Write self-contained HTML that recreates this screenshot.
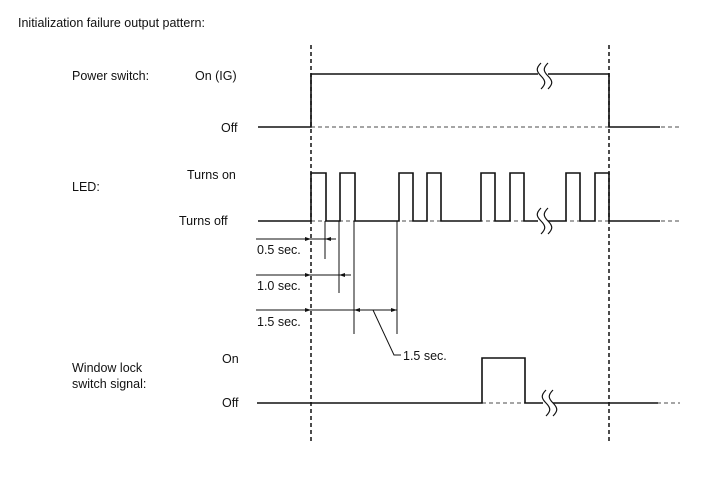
<!DOCTYPE html>
<html><head><meta charset="utf-8"><style>
html,body{margin:0;padding:0;background:#fff;}
svg{display:block;}
text{font-family:"Liberation Sans",Arial,sans-serif;font-size:12.5px;fill:#111;}
</style></head><body>
<svg width="713" height="481" viewBox="0 0 713 481" xmlns="http://www.w3.org/2000/svg">
<defs>
<marker id="ar" viewBox="0 0 6 6" refX="6" refY="3" markerWidth="6" markerHeight="6" orient="auto-start-reverse" markerUnits="userSpaceOnUse"><path d="M0,1 L6,3 L0,5 z" fill="#111"/></marker>
</defs>
<text x="18" y="27">Initialization failure output pattern:</text>
<text x="72" y="80">Power switch:</text>
<text x="195" y="80">On (IG)</text>
<text x="221" y="132">Off</text>
<text x="72" y="191">LED:</text>
<text x="187" y="179">Turns on</text>
<text x="179" y="225">Turns off</text>
<text x="257" y="254">0.5 sec.</text>
<text x="257" y="290">1.0 sec.</text>
<text x="257" y="326">1.5 sec.</text>
<text x="403" y="360">1.5 sec.</text>
<text x="72" y="372">Window lock</text>
<text x="72" y="388">switch signal:</text>
<text x="222" y="363">On</text>
<text x="222" y="407">Off</text>

<g stroke="#111" fill="none">
<!-- vertical dashed -->
<line x1="311" y1="45" x2="311" y2="442" stroke-width="1.5" stroke-dasharray="4,3"/>
<line x1="609" y1="45" x2="609" y2="442" stroke-width="1.5" stroke-dasharray="4,3"/>
<!-- dashed baselines -->
<line x1="311" y1="127" x2="680" y2="127" stroke-width="0.8" stroke-dasharray="4,3"/>
<line x1="311" y1="221" x2="680" y2="221" stroke-width="0.8" stroke-dasharray="4,3"/>
<line x1="482" y1="403" x2="680" y2="403" stroke-width="0.8" stroke-dasharray="4,3"/>
<!-- power -->
<polyline stroke-width="1.6" points="258,127 311,127 311,74 609,74 609,127 660,127"/>
<!-- LED -->
<polyline stroke-width="1.6" points="258,221 311,221 311,173 326,173 326,221 340,221 340,173 355,173 355,221 399,221 399,173 413,173 413,221 427,221 427,173 441,173 441,221 481,221 481,173 495,173 495,221 510,221 510,173 524,173 524,221 566,221 566,173 580,173 580,221 595,221 595,173 609,173 609,221 660,221"/>
<!-- window -->
<polyline stroke-width="1.6" points="257,403 482,403 482,358 525,358 525,403 658,403"/>
<!-- dims -->
<line x1="325" y1="221" x2="325" y2="259" stroke-width="1"/>
<line x1="339" y1="221" x2="339" y2="293" stroke-width="1"/>
<line x1="354" y1="221" x2="354" y2="334" stroke-width="1"/>
<line x1="397" y1="221" x2="397" y2="334" stroke-width="1"/>
<line x1="256" y1="239" x2="311" y2="239" stroke-width="1" marker-end="url(#ar)"/>
<line x1="311" y1="239" x2="336" y2="239" stroke-width="1"/>
<line x1="336" y1="239" x2="325" y2="239" stroke-width="1" marker-end="url(#ar)"/>
<line x1="256" y1="275" x2="311" y2="275" stroke-width="1" marker-end="url(#ar)"/>
<line x1="311" y1="275" x2="351" y2="275" stroke-width="1"/>
<line x1="351" y1="275" x2="339" y2="275" stroke-width="1" marker-end="url(#ar)"/>
<line x1="256" y1="310" x2="311" y2="310" stroke-width="1" marker-end="url(#ar)"/>
<line x1="311" y1="310" x2="354" y2="310" stroke-width="1"/>
<line x1="354" y1="310" x2="397" y2="310" stroke-width="1" marker-start="url(#ar)" marker-end="url(#ar)"/>
<polyline stroke-width="1" points="373,310 394,355 401,355"/>
</g>
<!-- breaks -->
<g fill="#fff" stroke="none">
<rect x="538" y="70" width="10" height="8"/>
<rect x="538" y="217" width="10" height="8"/>
<rect x="543" y="399" width="10" height="8"/>
</g>
<g stroke="#111" fill="none" stroke-width="1.2">
<path d="M541,63 c-5,5 -5,8 0,13 c5,5 5,8 0,13"/>
<path d="M548,63 c-5,5 -5,8 0,13 c5,5 5,8 0,13"/>
<path d="M541,208 c-5,5 -5,8 0,13 c5,5 5,8 0,13"/>
<path d="M548,208 c-5,5 -5,8 0,13 c5,5 5,8 0,13"/>
<path d="M546,390 c-5,5 -5,8 0,13 c5,5 5,8 0,13"/>
<path d="M553,390 c-5,5 -5,8 0,13 c5,5 5,8 0,13"/>
</g>
</svg>
</body></html>
